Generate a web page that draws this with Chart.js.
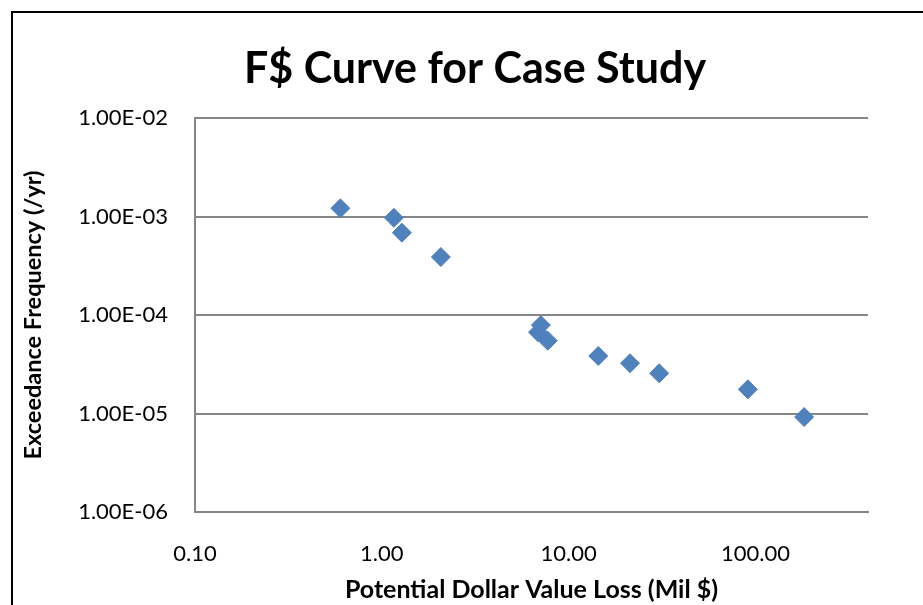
<!DOCTYPE html>
<html>
<head>
<meta charset="utf-8">
<script src="https://cdn.jsdelivr.net/npm/chart.js@4.4.1/dist/chart.umd.min.js"></script>
<style>
  html, body { margin: 0; padding: 0; background: #fff; overflow: hidden; width: 923px; height: 605px; }
  #wrap { position: absolute; left: 11px; top: 11px; width: 926px; height: 620px; }
</style>
</head>
<body>
<div id="wrap"><canvas id="chart"></canvas></div>
<script>
// Potential loss (million $) and the exceedance frequency (per year) of each case
const lossMillions   = [0.6, 1.16, 1.28, 2.07, 7.1, 6.85, 7.73, 14.4, 21.3, 30.5, 91, 182];
const exceedanceFreq = [1.21e-3, 9.7e-4, 6.85e-4, 3.88e-4, 7.9e-5, 6.7e-5, 5.48e-5, 3.84e-5, 3.24e-5, 2.56e-5, 1.76e-5, 9.2e-6];

// Axis ticks
const xTickValues = [0.1, 1, 10, 100];
const yTickValues = [1e-6, 1e-5, 1e-4, 1e-3, 1e-2];

const TITLE = 'F$ Curve for Case Study';
const FONT = 'Lato, "Open Sans", "Noto Sans", sans-serif';
const GRID = '#868686';
const MARKER = '#4F81BD';

function sci(v) {
  const e = Math.round(Math.log10(v));
  const m = v / Math.pow(10, e);
  const sign = e < 0 ? '-' : '+';
  return m.toFixed(2) + 'E' + sign + String(Math.abs(e)).padStart(2, '0');
}

// Outer chart frame and the centred chart title
const framePlugin = {
  id: 'frame',
  afterDraw(chart) {
    const { ctx, width, height } = chart;
    ctx.save();
    ctx.strokeStyle = '#000';
    ctx.lineWidth = 2;
    ctx.strokeRect(1, 1, width - 2, height - 2);
    ctx.fillStyle = '#000';
    ctx.font = 'bold 43px ' + FONT;
    ctx.textAlign = 'center';
    ctx.textBaseline = 'alphabetic';
    ctx.fillText(TITLE, width / 2 + 1, 72);
    ctx.restore();
  }
};

new Chart(document.getElementById('chart'), {
  type: 'scatter',
  data: {
    datasets: [{
      label: 'F$',
      data: lossMillions.map((x, i) => ({ x: x, y: exceedanceFreq[i] })),
      pointStyle: 'rectRot',
      pointRadius: 9.5,
      pointHoverRadius: 9.5,
      backgroundColor: MARKER,
      borderColor: MARKER,
      borderWidth: 1
    }]
  },
  options: {
    responsive: true,
    maintainAspectRatio: false,
    animation: false,
    devicePixelRatio: 1,
    layout: { padding: { left: 0, right: 69, top: 107, bottom: 0 } },
    plugins: {
      legend: { display: false },
      tooltip: { enabled: false },
      title: { display: false }
    },
    scales: {
      x: {
        type: 'logarithmic',
        min: 0.1,
        max: 400,
        afterBuildTicks: s => { s.ticks = xTickValues.map(v => ({ value: v })); },
        afterFit: s => { s.height = 119; },
        grid: { display: false, drawTicks: false },
        border: { display: true, color: GRID, width: 2 },
        ticks: {
          padding: 29,
          color: '#000',
          autoSkip: false,
          maxRotation: 0,
          font: { family: FONT, size: 22 },
          callback: v => Number(v).toFixed(2)
        },
        title: {
          display: true,
          text: 'Potential Dollar Value Loss (Mil $)',
          color: '#000',
          font: { family: FONT, size: 25, weight: 'bold', lineHeight: 1.2 },
          padding: { top: 0, bottom: 26 }
        }
      },
      y: {
        type: 'logarithmic',
        min: 1e-6,
        max: 1e-2,
        afterBuildTicks: s => { s.ticks = yTickValues.map(v => ({ value: v })); },
        afterFit: s => { s.width = 184; },
        grid: { color: GRID, lineWidth: 2, drawTicks: false },
        border: { display: true, color: GRID, width: 2 },
        ticks: {
          padding: 27,
          color: '#000',
          autoSkip: false,
          font: { family: FONT, size: 22 },
          callback: v => sci(Number(v))
        },
        title: {
          display: true,
          text: 'Exceedance Frequency (/yr)',
          color: '#000',
          font: { family: FONT, size: 23.5, weight: 'bold', lineHeight: 1.2 },
          padding: { top: 8, bottom: 0 }
        }
      }
    }
  },
  plugins: [framePlugin]
});
</script>
</body>
</html>
